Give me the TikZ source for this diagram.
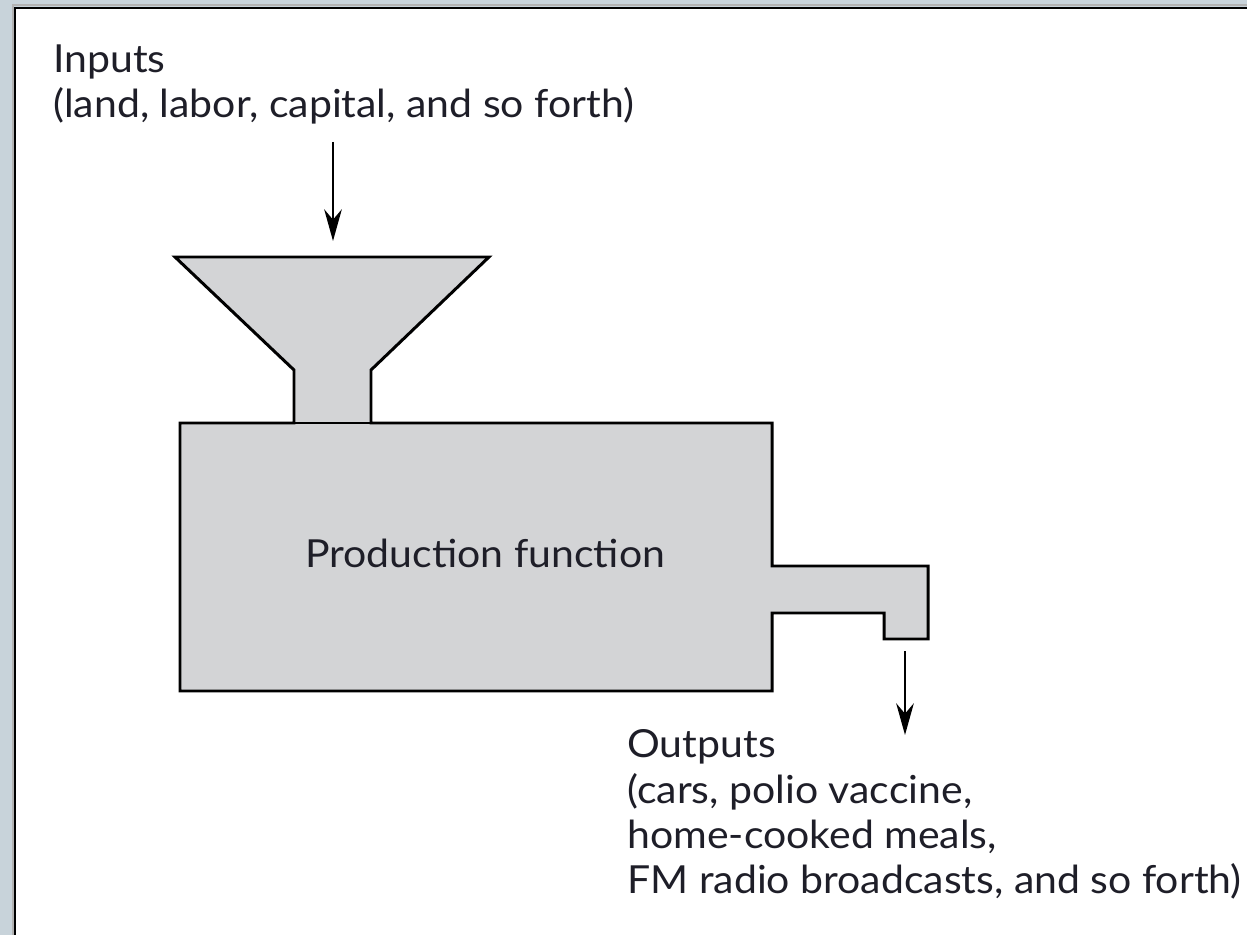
\documentclass[tikz,border=0pt]{standalone}
\usepackage{fontspec}
\setmainfont{Lato}[FakeStretch=1.06]
\usetikzlibrary{arrows.meta}
\definecolor{bgblue}{HTML}{C8D3DA}
\definecolor{machine}{HTML}{D3D4D6}
\definecolor{ink}{HTML}{1E1E28}
\tikzset{
  machinepart/.style={draw=black, fill=machine, line width=1.7pt, line join=miter},
  flow/.style={draw=black, line width=1.6pt, -{Stealth[length=18pt,width=10pt]}},
  label/.style={inner sep=0pt, anchor=base west, font=\fontsize{22}{26}\selectfont, text=ink},
}
\begin{document}
\begin{tikzpicture}[x=0.02cm, y=-0.02cm]
\useasboundingbox (0,0) rectangle (1247,935);
\fill[bgblue] (0,0) rectangle (1247,935);
\fill[white] (15,8) rectangle (1250,940);
\draw[black, line width=1.6pt] (15,940) -- (15,8) -- (1250,8);
\draw[gray!60, line width=0.6pt] (13,940) -- (13,5) -- (1250,5);
% machine
\draw[machinepart] (180,423) -- (294,423) -- (294,370) -- (175,257) -- (489,257) -- (371,370) -- (371,423)
  -- (772,423) -- (772,566) -- (928,566) -- (928,639) -- (884,639) -- (884,613) -- (772,613) -- (772,691) -- (180,691) -- cycle;
\draw[machinepart, fill=none] (294,423) -- (371,423);
\node[label] (pf) at (305,567) {Production function};
% texts
\node[label] (in1) at (53,73) {Inputs};
\node[label] (in2) at (53,118) {(land, labor, capital, and so forth)};
\node[label] (out1) at (627,757) {Outputs};
\node[label] (out2) at (627,803) {(cars, polio vaccine,};
\node[label] (out3) at (627,848) {home-cooked meals,};
\node[label] (out4) at (627,893) {FM radio broadcasts, and so forth)};
% arrows
\coordinate (a1s) at (333,142);
\coordinate (a1e) at (333,241);
\coordinate (a2s) at (905,651);
\coordinate (a2e) at (905,735);
\draw[flow] (a1s) -- (a1e);
\draw[flow] (a2s) -- (a2e);
\end{tikzpicture}
\end{document}
